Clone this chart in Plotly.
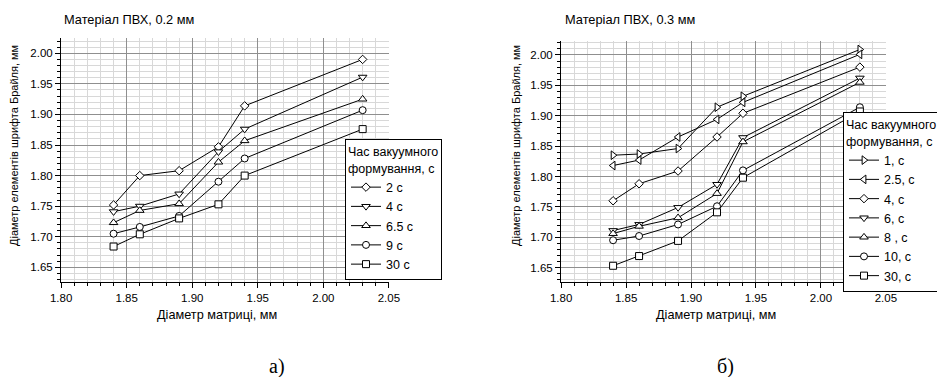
import plotly.graph_objects as go

# ---------------- data ----------------
x_matrix = [1.84, 1.86, 1.89, 1.92, 1.94, 2.03]

a_names = ["2 с", "4 с", "6.5 с", "9 с", "30 с"]
a_2s = [1.752, 1.800, 1.808, 1.847, 1.914, 1.990]
a_4s = [1.741, 1.750, 1.770, 1.839, 1.876, 1.961]
a_6_5s = [1.723, 1.743, 1.754, 1.822, 1.857, 1.925]
a_9s = [1.705, 1.716, 1.734, 1.790, 1.828, 1.907]
a_30s = [1.684, 1.704, 1.730, 1.753, 1.800, 1.876]
a_symbols = ["diamond", "triangle-down", "triangle-up", "circle", "square"]

b_names = ["1, с", "2.5, с", "4, с", "6, с", "8 , с", "10, с", "30, с"]
b_1s = [1.835, 1.837, 1.846, 1.914, 1.932, 2.009]
b_2_5s = [1.818, 1.827, 1.865, 1.894, 1.922, 2.001]
b_4s = [1.760, 1.788, 1.809, 1.865, 1.904, 1.980]
b_6s = [1.711, 1.721, 1.749, 1.787, 1.864, 1.962]
b_8s = [1.706, 1.718, 1.732, 1.772, 1.857, 1.955]
b_10s = [1.695, 1.702, 1.721, 1.751, 1.810, 1.914]
b_30s = [1.653, 1.669, 1.694, 1.741, 1.798, 1.907]
b_symbols = ["triangle-right", "triangle-left", "diamond", "triangle-down",
             "triangle-up", "circle", "square"]

titles = ["Матеріал ПВХ, 0.2 мм", "Матеріал ПВХ, 0.3 мм"]
x_title = "Діаметр матриці, мм"
y_title = "Діаметр елементів шрифта Брайля, мм"
legend_title = "Час вакуумного<br>формування, с"
panel_labels = ["а)", "б)"]

# ---------------- figure ----------------
W, H = 937, 377
FONT = "Liberation Sans, Arial, sans-serif"
fig = go.Figure()


def msize(sym):
    if sym == "diamond":
        return 6.5
    if sym.startswith("triangle"):
        return 7.5
    return 7


a_series = [a_2s, a_4s, a_6_5s, a_9s, a_30s]
for name, ys, sym in zip(a_names, a_series, a_symbols):
    fig.add_trace(go.Scatter(
        x=x_matrix, y=ys, name=name, mode="lines+markers",
        line=dict(color="black", width=1),
        marker=dict(symbol=sym, size=msize(sym), color="white",
                    line=dict(color="black", width=1)),
        xaxis="x", yaxis="y", legend="legend"))

b_series = [b_1s, b_2_5s, b_4s, b_6s, b_8s, b_10s, b_30s]
for name, ys, sym in zip(b_names, b_series, b_symbols):
    fig.add_trace(go.Scatter(
        x=x_matrix, y=ys, name=name, mode="lines+markers",
        line=dict(color="black", width=1),
        marker=dict(symbol=sym, size=msize(sym), color="white",
                    line=dict(color="black", width=1)),
        xaxis="x2", yaxis="y2", legend="legend2"))

MAJOR_GRID = "#8f8f8f"
MINOR_GRID = "#d8d8d8"


def xaxis(domain, anchor):
    return dict(
        domain=domain, anchor=anchor, range=[1.7999, 2.0501],
        tick0=1.8, dtick=0.05, tickformat=".2f",
        showgrid=True, gridcolor=MAJOR_GRID, gridwidth=1,
        showline=True, linecolor="black", linewidth=1,
        ticks="outside", ticklen=5, tickcolor="black",
        tickfont=dict(family=FONT, size=11.5, color="black"),
        zeroline=False,
        minor=dict(tick0=1.8, dtick=0.01, showgrid=True, gridcolor=MINOR_GRID,
                   ticks="outside", ticklen=3, tickcolor="black"),
    )


def yaxis(domain, anchor, rng):
    return dict(
        domain=domain, anchor=anchor, range=rng,
        tick0=1.65, dtick=0.05, tickformat=".2f",
        showgrid=True, gridcolor=MAJOR_GRID, gridwidth=1,
        showline=True, linecolor="black", linewidth=1,
        ticks="outside", ticklen=5, tickcolor="black",
        tickfont=dict(family=FONT, size=11.5, color="black"),
        zeroline=False,
        minor=dict(tick0=1.65, dtick=0.01, showgrid=True, gridcolor=MINOR_GRID,
                   ticks="outside", ticklen=3, tickcolor="black"),
    )


LEG_FONT = dict(family=FONT, size=12.5, color="black")

fig.update_layout(
    width=W, height=H,
    margin=dict(l=0, r=0, t=0, b=0, autoexpand=False),
    paper_bgcolor="white", plot_bgcolor="white",
    font=dict(family=FONT, color="black"),
    xaxis=xaxis([61 / W, 389 / W], "y"),
    yaxis=yaxis([1 - 282 / H, 1 - 38 / H], "x", [1.626, 2.025]),
    xaxis2=xaxis([561 / W, 886 / W], "y2"),
    yaxis2=yaxis([1 - 282 / H, 1 - 41 / H], "x2", [1.6263, 2.023]),
    legend=dict(
        x=345 / W, y=1 - 139 / H, xanchor="left", yanchor="top",
        bgcolor="white", bordercolor="black", borderwidth=1,
        font=LEG_FONT, title=dict(text=legend_title, font=LEG_FONT),
        tracegroupgap=0),
    legend2=dict(
        x=843 / W, y=1 - 112 / H, xanchor="left", yanchor="top",
        bgcolor="white", bordercolor="black", borderwidth=1,
        font=LEG_FONT, title=dict(text=legend_title, font=LEG_FONT),
        tracegroupgap=0),
    showlegend=True,
)

ann = []
# panel titles
for xp, t in zip([62, 563], titles):
    ann.append(dict(text=t, x=xp / W, y=1 - 20 / H, xref="paper", yref="paper",
                    xanchor="left", yanchor="middle", showarrow=False,
                    font=dict(family=FONT, size=12.8, color="black")))
# x axis titles
for xp in [217, 716]:
    ann.append(dict(text=x_title, x=xp / W, y=1 - 315 / H, xref="paper", yref="paper",
                    xanchor="center", yanchor="middle", showarrow=False,
                    font=dict(family=FONT, size=12.7, color="black")))
# y axis titles
for xp in [14, 516]:
    ann.append(dict(text=y_title, x=xp / W, y=1 - 146 / H, xref="paper", yref="paper",
                    xanchor="center", yanchor="middle", showarrow=False, textangle=-90,
                    font=dict(family=FONT, size=11, color="black")))
# panel labels
for xp, t in zip([277, 725], panel_labels):
    ann.append(dict(text=t, x=xp / W, y=1 - 366 / H, xref="paper", yref="paper",
                    xanchor="center", yanchor="middle", showarrow=False,
                    font=dict(family="Liberation Serif, Times New Roman, serif",
                              size=20, color="black")))
fig.update_layout(annotations=ann)

fig.write_html("out.html")
